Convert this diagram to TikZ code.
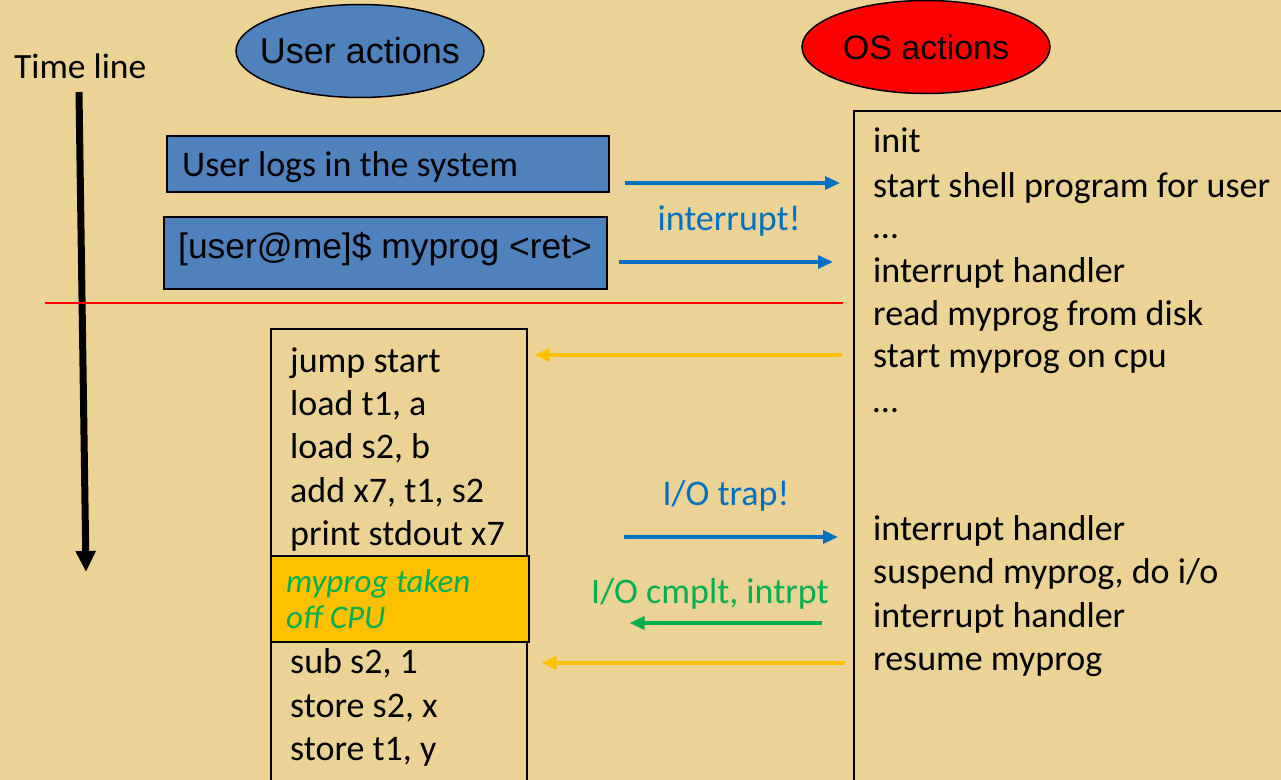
\documentclass[tikz,border=0pt]{standalone}
\usepackage{fontspec}
\setmainfont{Carlito}
\newfontfamily\arialfont{Liberation Sans}
\usetikzlibrary{arrows.meta, shapes.geometric}
\definecolor{papyrus}{RGB}{235,211,150}
\definecolor{userblue}{RGB}{79,129,189}
\definecolor{msgblue}{RGB}{0,112,192}
\definecolor{msggold}{RGB}{255,192,0}
\definecolor{msggreen}{RGB}{0,176,80}
\tikzset{oval/.style={ellipse, draw=black, line width=1.5bp, minimum width=248bp, minimum height=93bp, inner sep=0pt},
        ubox/.style={draw=black, line width=1.5bp, fill=userblue, anchor=north west},
        ln/.style={anchor=base west, inner sep=0pt, font=\fontsize{36bp}{43bp}\selectfont},
        lbl/.style={anchor=base, inner sep=0pt, font=\fontsize{36bp}{43bp}\selectfont},
        msg/.style={-{Triangle[length=15bp,width=13bp]}, line width=3.5bp}}

\begin{document}
\begin{tikzpicture}[x=1bp, y=-1bp]
    \useasboundingbox (0,0) rectangle (1281,780);
    \clip (0,0) rectangle (1281,780);
    \fill[papyrus] (0,0) rectangle (1281,780);

    % headings
    \node[oval, fill=userblue] (user) at (360,51) {};
    \node[font=\arialfont\fontsize{36bp}{43bp}\selectfont] (usertxt) at (user) {User actions};
    \node[oval, fill=red] (os) at (926,47) {};
    \node[font=\arialfont\fontsize{34bp}{40bp}\selectfont] (ostxt) at (os) {OS actions};

    % time line
    \node[ln, font=\fontsize{35.5bp}{43bp}\selectfont] (timeline) at (14,79) {Time line};
    \coordinate (tstart) at (79,92);
    \coordinate (tend) at (86,572);
    \draw[line width=7bp, -{Triangle[length=21bp,width=19bp]}] (tstart) -- (tend);

    % user side
    \node[ubox, minimum width=442bp, minimum height=56bp] (login) at (166,135) {};
    \node[ln] (logintxt) at (182,176) {User logs in the system};
    \node[ubox, minimum width=443bp, minimum height=72bp] (cmd) at (163,216) {};
    \node[ln, font=\arialfont\fontsize{35.4bp}{43bp}\selectfont] (cmdtxt) at (178,258) {[user@me]\$ myprog <ret>};

    % red separator
    \coordinate (sepl) at (45,303);
    \coordinate (sepr) at (843,303);
    \draw[red, line width=1.3bp] (sepl) -- (sepr);

    % OS side
    \node[draw=black, line width=1.5bp, anchor=north west, minimum width=460bp, minimum height=700bp] (osbox) at (853,110) {};
    \foreach \y/\t [count=\i] in {152/init, 197/start shell program for user, 238/…, 282/interrupt handler, 325/read myprog from disk, 367/start myprog on cpu, 412/…, 540/interrupt handler, 583/{suspend myprog, do i/o}, 627/interrupt handler, 670/resume myprog}
      \node[ln] (os\i) at (873,\y) {\t};

    % program
    \node[draw=black, line width=1.5bp, anchor=north west, minimum width=256bp, minimum height=500bp] (prog) at (270,328) {};
    \foreach \y/\t [count=\i] in {372/jump start, 415/{load t1, a}, 458/{load s2, b}, 502/{add x7, t1, s2}, 545/print stdout x7, 673/{sub s2, 1}, 717/{store s2, x}, 760/{store t1, y}}
      \node[ln] (p\i) at (290,\y) {\t};
    \node[ubox, fill=msggold, minimum width=258bp, minimum height=86bp] (taken) at (270,555) {};
    \node[ln, text=msggreen, font=\itshape\fontsize{33bp}{36bp}\selectfont] (taken1) at (286,592) {myprog taken};
    \node[ln, text=msggreen, font=\itshape\fontsize{33bp}{36bp}\selectfont] (taken2) at (286,628) {off CPU};

    % messages
    \coordinate (rowa) at (0,183);
    \coordinate (rowb) at (0,262);
    \coordinate (rowc) at (0,355);
    \coordinate (rowd) at (0,537);
    \coordinate (rowe) at (0,623);
    \coordinate (rowf) at (0,663);
    \draw[msg, msgblue, shorten <=15bp, shorten >=13bp] (login.east |- rowa) -- (osbox.west |- rowa);
    \draw[msg, msgblue, shorten <=11bp, shorten >=20bp] (cmd.east |- rowb) -- (osbox.west |- rowb);
    \draw[msg, msggold, shorten <=11bp, shorten >=7bp] (osbox.west |- rowc) -- (prog.east |- rowc);
    \draw[msg, msgblue, shorten <=96bp, shorten >=15bp] (prog.east |- rowd) -- (osbox.west |- rowd);
    \draw[msg, msggreen, shorten <=31bp, shorten >=102bp] (osbox.west |- rowe) -- (prog.east |- rowe);
    \draw[msg, msggold, shorten <=8bp, shorten >=14bp] (osbox.west |- rowf) -- (prog.east |- rowf);

    \node[lbl, text=msgblue] (irq) at (729,230) {interrupt!};
    \node[lbl, text=msgblue] (trap) at (726,505) {I/O trap!};
    \node[lbl, text=msggreen] (done) at (710,603) {I/O cmplt, intrpt};
  \end{tikzpicture}
\end{document}
